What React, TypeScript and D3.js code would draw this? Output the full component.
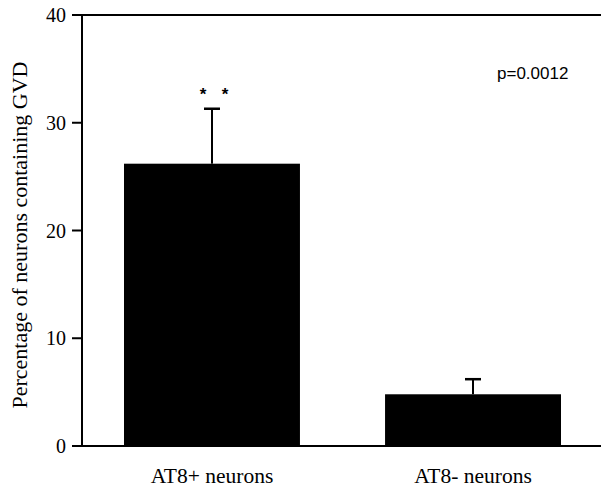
import React from "react";
import * as d3 from "d3";

const categories = ["AT8+ neurons", "AT8- neurons"];
const values = [26.2, 4.8];
const errors = [5.1, 1.4];
const yTicks = [0, 10, 20, 30, 40];
const yLabel = "Percentage of neurons containing GVD";
const pText = "p=0.0012";

export default function App() {
  const W = 601, H = 488;
  const y = d3.scaleLinear().domain([0, 40]).range([446, 15]);
  const x = d3.scaleBand().domain(categories).range([124, 561]).paddingInner(0.326).paddingOuter(0);
  const axisX = 82;
  const serif = { fontFamily: "\"Liberation Serif\", \"DejaVu Serif\", serif" };
  const sans = { fontFamily: "\"Liberation Sans\", Arial, sans-serif" };
  return (
    <svg width={W} height={H} style={{ position: "absolute", left: 0, top: 0, background: "#fff" }}>
      <rect x={0} y={0} width={W} height={H} fill="#fff" />
      {categories.map((c, i) => {
        const bx = x(c)!;
        const bw = x.bandwidth();
        const cx = bx + bw / 2;
        return (
          <g key={c}>
            <rect x={bx} y={y(values[i])} width={bw} height={y(0) - y(values[i])} fill="#000" />
            <line x1={cx} x2={cx} y1={y(values[i])} y2={y(values[i] + errors[i])} stroke="#000" strokeWidth={2} />
            <line x1={cx - 8} x2={cx + 8} y1={y(values[i] + errors[i])} y2={y(values[i] + errors[i])} stroke="#000" strokeWidth={2.5} />
            <text x={cx} y={483} textAnchor="middle" style={serif} fontSize={21.5} fill="#000">{c}</text>
          </g>
        );
      })}
      <line x1={axisX} x2={axisX} y1={y(40) - 1} y2={y(0) + 1} stroke="#000" strokeWidth={2} />
      <line x1={72} x2={W} y1={y(40)} y2={y(40)} stroke="#000" strokeWidth={2} />
      <line x1={72} x2={W} y1={y(0)} y2={y(0)} stroke="#000" strokeWidth={2} />
      {yTicks.map((t) => (
        <g key={t}>
          <line x1={72} x2={axisX} y1={y(t)} y2={y(t)} stroke="#000" strokeWidth={2} />
          <text x={66} y={y(t)} dy="0.35em" textAnchor="end" style={serif} fontSize={20} fill="#000">{t}</text>
        </g>
      ))}
      <text transform={`translate(27,235) rotate(-90)`} textAnchor="middle" style={serif} fontSize={22} fill="#000">{yLabel}</text>
      <text x={497} y={79} style={sans} fontSize={17} fill="#000">{pText}</text>
      <text x={203} y={100} textAnchor="middle" style={sans} fontSize={17} fontWeight="bold" fill="#000">*</text>
      <text x={225} y={100} textAnchor="middle" style={sans} fontSize={17} fontWeight="bold" fill="#000">*</text>
    </svg>
  );
}
